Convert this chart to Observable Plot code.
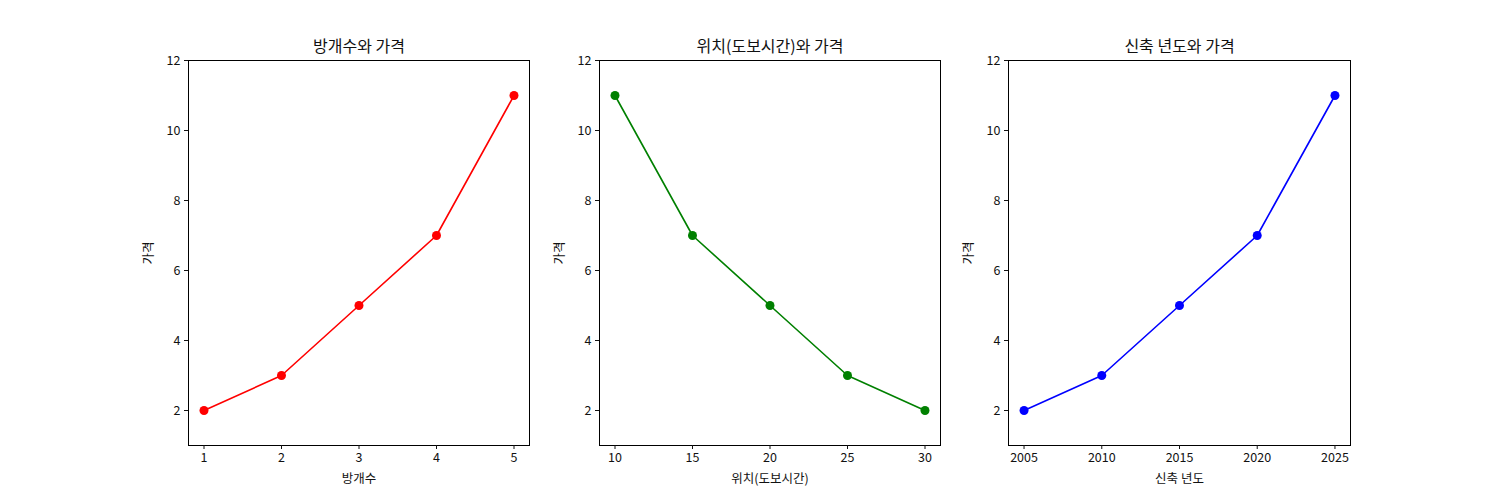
<!DOCTYPE html>
<html>
<head>
<meta charset="utf-8">
<script src="https://cdn.jsdelivr.net/npm/d3@7"></script>
<script src="https://cdn.jsdelivr.net/npm/@observablehq/plot@0.6"></script>
<style>
  html, body { margin: 0; padding: 0; background: #fff; }
  #wrap { position: relative; width: 1500px; height: 500px; overflow: hidden; }
  #wrap svg { position: absolute; top: 0; }
</style>
</head>
<body>
<div id="wrap"></div>
<script>
const rooms = [1, 2, 3, 4, 5];
const roomPrice = [2, 3, 5, 7, 11];
const walkMinutes = [10, 15, 20, 25, 30];
const walkPrice = [11, 7, 5, 3, 2];
const builtYears = [2005, 2010, 2015, 2020, 2025];
const yearPrice = [2, 3, 5, 7, 11];

const yTicks = [2, 4, 6, 8, 10, 12];
const font = "'Noto Sans CJK KR', 'Noto Sans', sans-serif";

const panels = [
  {title: "방개수와 가격", xLabel: "방개수", xs: rooms, ys: roomPrice, color: "red",
   xDomain: [0.8, 5.2], left: 188, right: 529},
  {title: "위치(도보시간)와 가격", xLabel: "위치(도보시간)", xs: walkMinutes, ys: walkPrice, color: "green",
   xDomain: [9, 31], left: 599, right: 940},
  {title: "신축 년도와 가격", xLabel: "신축 년도", xs: builtYears, ys: yearPrice, color: "blue",
   xDomain: [2004, 2026], left: 1008, right: 1350}
];

const wrap = document.getElementById("wrap");
for (const p of panels) {
  const data = p.xs.map((x, i) => ({x, y: p.ys[i]}));
  const mL = 60, mR = 10;
  const chart = Plot.plot({
    width: (p.right - p.left) + mL + mR,
    height: 500,
    marginLeft: mL,
    marginRight: mR,
    marginTop: 60,
    marginBottom: 55,
    style: {fontFamily: font, fontSize: "12.5px", color: "#111", background: "transparent"},
    x: {domain: p.xDomain},
    y: {domain: [1, 12]},
    marks: [
      Plot.frame({stroke: "black", strokeWidth: 1}),
      Plot.axisX({ticks: p.xs, tickFormat: d => String(d), tickSize: 4, tickPadding: 4,
        label: p.xLabel, labelAnchor: "center", labelArrow: "none", labelOffset: 37, fontSize: 12.5}),
      Plot.axisY({ticks: yTicks, tickFormat: d => String(d), tickSize: 4, tickPadding: 4,
        label: "가격", labelAnchor: "center", labelArrow: "none", labelOffset: 44, fontSize: 12.5}),
      Plot.line(data, {x: "x", y: "y", stroke: p.color, strokeWidth: 1.6}),
      Plot.dot(data, {x: "x", y: "y", fill: p.color, r: 4.5}),
      Plot.text([p.title], {frameAnchor: "top", dy: -20, fontSize: 16, fill: "#111"})
    ]
  });
  chart.style.left = (p.left - mL) + "px";
  wrap.appendChild(chart);
}
</script>
</body>
</html>
